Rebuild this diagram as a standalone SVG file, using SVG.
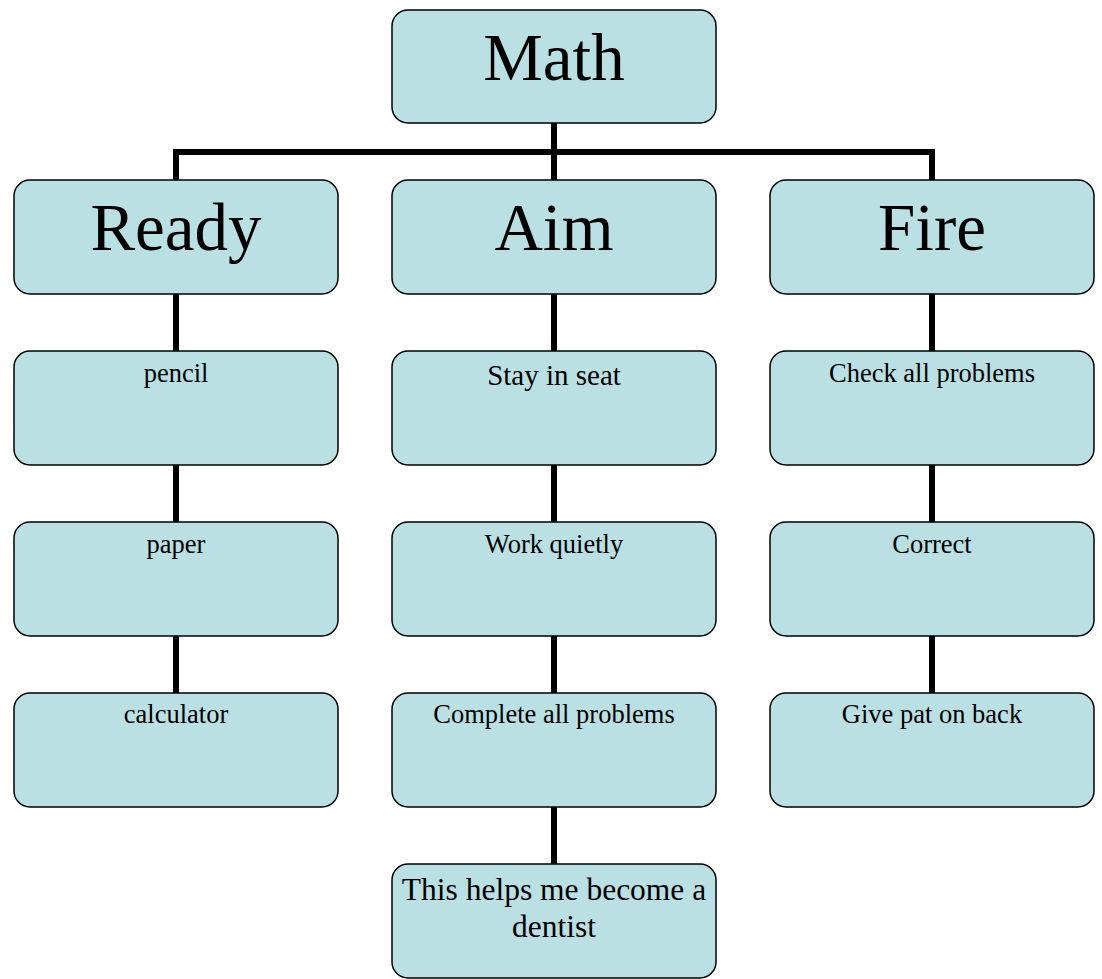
<svg xmlns="http://www.w3.org/2000/svg" width="1102" height="979" viewBox="0 0 1102 979">
<style>
.box{fill:#BBE0E3;stroke:#000;stroke-width:1.5}
.conn{stroke:#000;stroke-width:6;fill:none}
text{font-family:"Liberation Serif","Times New Roman",serif;fill:#000;text-anchor:middle}
.big{font-size:67px}
.sm{font-size:26.5px}
</style>
<rect width="1102" height="979" fill="#fff"/>
<g id="connectors">
<path class="conn" d="M554 123V180M176 152H933M176 149V180M932 149V180"/>
<path class="conn" d="M176 294V351M176 465V522M176 636V693"/>
<path class="conn" d="M554 294V351M554 465V522M554 636V693M554 807V864"/>
<path class="conn" d="M932 294V351M932 465V522M932 636V693"/>
</g>
<g id="math"><rect class="box" x="392" y="10" width="324" height="113" rx="16"/><text class="big" x="554" y="80">Math</text></g>
<g id="ready"><rect class="box" x="14" y="180" width="324" height="114" rx="16"/><text class="big" x="176" y="250">Ready</text></g>
<g id="aim"><rect class="box" x="392" y="180" width="324" height="114" rx="16"/><text class="big" x="554" y="250">Aim</text></g>
<g id="fire"><rect class="box" x="770" y="180" width="324" height="114" rx="16"/><text class="big" x="932" y="250">Fire</text></g>
<g id="pencil"><rect class="box" x="14" y="351" width="324" height="114" rx="16"/><text class="sm" x="176" y="382">pencil</text></g>
<g id="paper"><rect class="box" x="14" y="522" width="324" height="114" rx="16"/><text class="sm" x="176" y="553">paper</text></g>
<g id="calculator"><rect class="box" x="14" y="693" width="324" height="114" rx="16"/><text class="sm" x="176" y="723">calculator</text></g>
<g id="stay"><rect class="box" x="392" y="351" width="324" height="114" rx="16"/><text x="554" y="385" style="font-size:29px">Stay in seat</text></g>
<g id="work"><rect class="box" x="392" y="522" width="324" height="114" rx="16"/><text class="sm" x="554" y="553">Work quietly</text></g>
<g id="complete"><rect class="box" x="392" y="693" width="324" height="114" rx="16"/><text class="sm" x="554" y="723">Complete all problems</text></g>
<g id="dentist"><rect class="box" x="392" y="864" width="324" height="114" rx="16"/><text x="554" y="900" style="font-size:31.5px">This helps me become a</text><text x="554" y="937" style="font-size:31.5px">dentist</text></g>
<g id="check"><rect class="box" x="770" y="351" width="324" height="114" rx="16"/><text class="sm" x="932" y="382">Check all problems</text></g>
<g id="correct"><rect class="box" x="770" y="522" width="324" height="114" rx="16"/><text class="sm" x="932" y="553">Correct</text></g>
<g id="pat"><rect class="box" x="770" y="693" width="324" height="114" rx="16"/><text class="sm" x="932" y="723">Give pat on back</text></g>
</svg>
